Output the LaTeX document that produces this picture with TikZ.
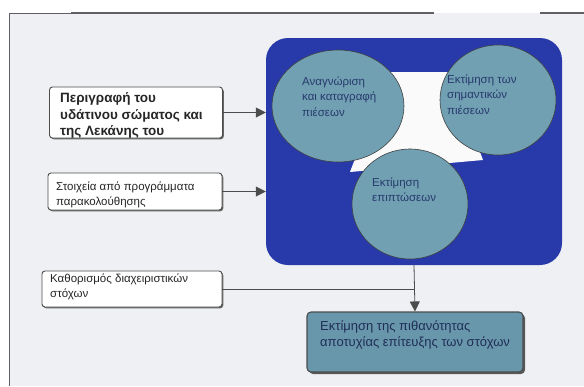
\documentclass[tikz,border=0pt]{standalone}
\usepackage{fontspec}
\setmainfont{Liberation Sans}
\usetikzlibrary{shapes.geometric,arrows.meta,shadows}
\definecolor{panelblue}{RGB}{40,58,170}
\definecolor{circfill}{RGB}{112,160,178}
\definecolor{goalfill}{RGB}{104,150,170}
\definecolor{circtext}{RGB}{40,58,110}
\definecolor{bg}{RGB}{238,240,243}
\definecolor{frame}{RGB}{95,95,100}
\newcommand{\lines}[1]{\begin{tabular}{@{}l@{}}#1\end{tabular}}
\tikzset{
  bubble/.style={ellipse, draw=black!75, line width=0.6pt, fill=circfill, inner sep=0pt},
  btext/.style={anchor=north west, inner sep=0pt, text=circtext, font=\fontsize{11.5}{15.5}\selectfont},
  srcbox/.style={rectangle, rounded corners=3pt, draw=black!70, line width=0.9pt, fill=white,
     drop shadow={shadow xshift=1.3pt, shadow yshift=-1.3pt, fill=black!60, opacity=1}},
  stext/.style={anchor=north west, inner sep=0pt, text=black!85, font=\fontsize{11.5}{15}\selectfont},
  goalbox/.style={rectangle, rounded corners=4pt, draw=black!70, line width=1.1pt, fill=goalfill,
     drop shadow={shadow xshift=2pt, shadow yshift=-2pt, fill=black!65, opacity=1}},
  conn/.style={draw=black!70, line width=0.8pt},
  arr/.style={conn, -{Triangle[length=10pt,width=10pt]}}
}
\begin{document}
\begin{tikzpicture}[x=1pt,y=-1pt]
\useasboundingbox (0,0) rectangle (584,386);
\fill[white] (0,0) rectangle (584,386);
\fill[bg] (9,13) rectangle (584,386);
% frame
\draw[frame, line width=0.8pt] (9,386) -- (9,13) -- (71,13);
\draw[frame, line width=1.3pt] (71,13) -- (434,13);
\draw[frame, line width=1.3pt] (540,13) -- (584,13);
% panel
\node[rectangle, rounded corners=22pt, fill=panelblue, minimum width=296pt, minimum height=227pt, inner sep=0pt] (panel) at (414,151.5) {};
\fill[white!96!gray] (388,72) -- (450,72) -- (483,160) -- (350,172) -- cycle;
\node[bubble, minimum width=132pt, minimum height=112pt] (c1) at (338,106) {};
\node[bubble, minimum width=116pt, minimum height=110pt] (c2) at (498,100) {};
\node[bubble, minimum width=116pt, minimum height=110pt] (c3) at (410,204) {};
\node[btext] (t1) at (302,74) {\lines{Αναγνώριση\\και καταγραφή\\πιέσεων}};
\node[btext] (t2) at (447,72) {\lines{Εκτίμηση των\\σημαντικών\\πιέσεων}};
\node[btext] (t3) at (372,175) {\lines{Εκτίμηση\\επιπτώσεων}};
% source boxes
\node[srcbox, minimum width=173pt, minimum height=51pt] (b1) at (136,112.5) {};
\node[stext, font=\bfseries\fontsize{13.5}{16.5}\selectfont] (b1t) at (60,91) {\lines{Περιγραφή του\\υδάτινου σώματος και\\της Λεκάνης του}};
\node[srcbox, minimum width=174pt, minimum height=37pt] (b2) at (135,191.5) {};
\node[stext] (b2t) at (56,180) {\lines{Στοιχεία από προγράμματα\\παρακολούθησης}};
\node[srcbox, minimum width=180pt, minimum height=36pt] (b3) at (132,289) {};
\node[stext] (b3t) at (50,272) {\lines{Καθορισμός διαχειριστικών\\στόχων}};
% goal box
\node[goalbox, minimum width=216pt, minimum height=60pt] (goal) at (415,342) {};
\node[stext, text=circtext!80!black, font=\fontsize{13}{16}\selectfont] (gt) at (320,319) {\lines{Εκτίμηση της πιθανότητας\\αποτυχίας επίτευξης των στόχων}};
% connectors
\draw[arr] (b1.east) -- (b1.east -| panel.west);
\draw[arr] (b2.east) -- (b2.east -| panel.west);
\draw[conn] (b3.east) -- (b3.east -| panel.south);
\draw[arr] (panel.south) -- (goal.north);
\end{tikzpicture}
\end{document}
